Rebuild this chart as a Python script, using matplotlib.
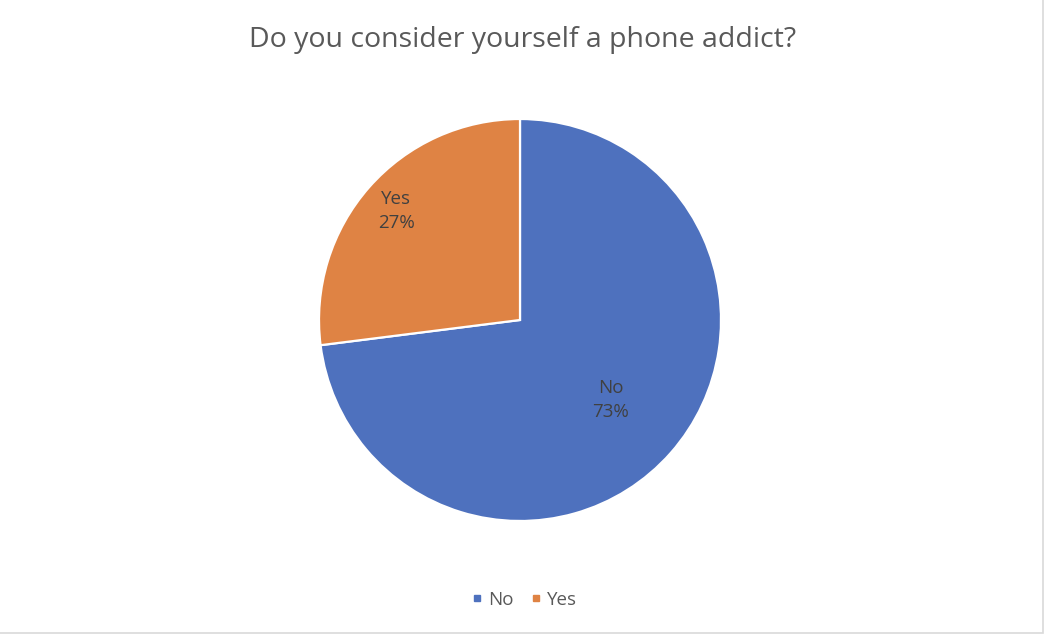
#!/usr/bin/env python3
"""Pie chart: Do you consider yourself a phone addict?"""

import matplotlib

matplotlib.use("Agg")
import matplotlib.pyplot as plt
import numpy as np
from matplotlib.lines import Line2D
from matplotlib.patches import Rectangle

plt.rcParams["font.family"] = ["Open Sans", "DejaVu Sans"]

TITLE = "Do you consider yourself a phone addict?"
CATEGORIES = ["No", "Yes"]
SHARES = [73, 27]
COLORS = ["#4E71BE", "#DF8344"]
LABEL_DIST = [0.6, 0.82]
TEXT_COLOR = "#404040"

W, H = 1045, 636
fig = plt.figure(figsize=(W / 100, H / 100), dpi=100)

# pie axes, square in pixels, centred around (520, 320)
cx, cy, r = 520, 320, 201
ax = fig.add_axes([(cx - r) / W, (H - cy - r) / H, 2 * r / W, 2 * r / H])
wedges, _ = ax.pie(
    SHARES,
    colors=COLORS,
    startangle=90,
    counterclock=False,
    radius=1.0,
    wedgeprops={"edgecolor": "white", "linewidth": 1.6},
)
ax.set_xlim(-1.0, 1.0)
ax.set_ylim(-1.0, 1.0)

for w, cat, share, dist in zip(wedges, CATEGORIES, SHARES, LABEL_DIST):
    mid = np.deg2rad(0.5 * (w.theta1 + w.theta2))
    ax.text(dist * np.cos(mid), dist * np.sin(mid), f"{cat}\n{share}%",
            ha="center", va="center", fontsize=13.5, color=TEXT_COLOR,
            linespacing=1.45)

fig.text(0.5, 1 - 40 / H, TITLE, ha="center", va="center",
         fontsize=20.5, color="#595959")

handles = [Line2D([], [], marker="s", linestyle="", markersize=5,
                  markerfacecolor=c, markeredgecolor=c) for c in COLORS]
fig.legend(handles, CATEGORIES, loc="center", bbox_to_anchor=(0.499, 1 - 600 / H),
           ncol=2, frameon=False, fontsize=13.5, handletextpad=0.0,
           handlelength=1.2, columnspacing=0.6, labelcolor="#595959")

# light chart border (right and bottom edges visible)
fig.add_artist(Rectangle((-0.01, 3 / H), 1 - 1.5 / W + 0.01, 1, transform=fig.transFigure,
                         fill=False, edgecolor="#D9D9D9", linewidth=1.2))

fig.savefig("out.png", dpi=100)
plt.close(fig)
